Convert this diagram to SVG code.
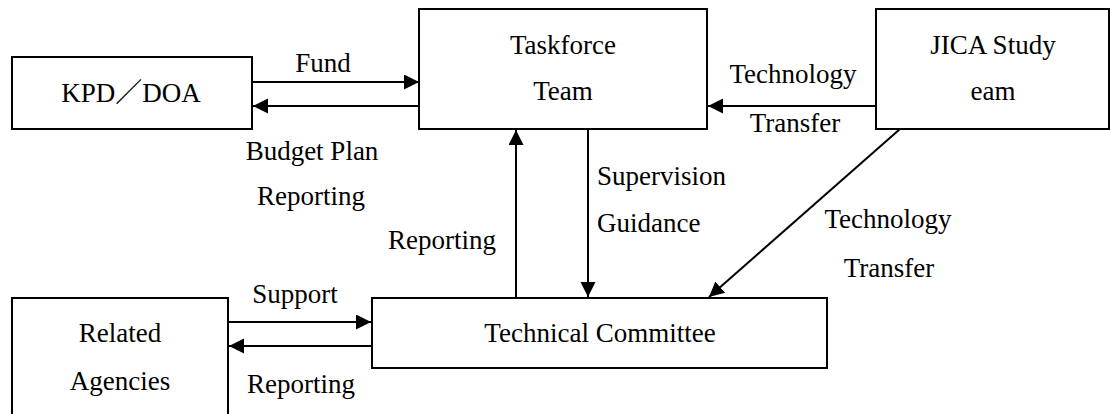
<svg xmlns="http://www.w3.org/2000/svg" width="1110" height="414" viewBox="0 0 1110 414" font-family="Liberation Serif, Times New Roman, DejaVu Serif, serif" font-size="27">
  <style>
    .box { fill: #ffffff; stroke: #000000; stroke-width: 2; }
    .conn { fill: none; stroke: #000000; stroke-width: 2; marker-end: url(#arrow); }
    .c { text-anchor: middle; }
  </style>
  <defs>
    <marker id="arrow" markerUnits="userSpaceOnUse" markerWidth="16" markerHeight="16" refX="15" refY="7.5" orient="auto">
      <path d="M0,0 L15,7.5 L0,15 Z" fill="#000000"/>
    </marker>
  </defs>
  <rect width="1110" height="414" fill="#ffffff"/>

  <g id="kpd-doa">
    <rect class="box" x="12" y="57" width="240" height="72"/>
    <text class="c" x="131" y="102">KPD<tspan font-family="Liberation Serif, Noto Sans CJK SC, serif">／</tspan>DOA</text>
  </g>
  <g id="taskforce-team">
    <rect class="box" x="419" y="9" width="288" height="120"/>
    <text class="c" x="563" y="54">Taskforce</text>
    <text class="c" x="563" y="100">Team</text>
  </g>
  <g id="jica-study-team">
    <rect class="box" x="876" y="9" width="233" height="120"/>
    <text class="c" x="993" y="54">JICA Study</text>
    <text class="c" x="993" y="100">eam</text>
  </g>
  <g id="technical-committee">
    <rect class="box" x="372" y="298" width="455" height="70"/>
    <text class="c" x="600" y="342">Technical Committee</text>
  </g>
  <g id="related-agencies">
    <rect class="box" x="12" y="298" width="216" height="130"/>
    <text class="c" x="120" y="342">Related</text>
    <text class="c" x="120" y="390">Agencies</text>
  </g>

  <g id="connectors">
    <path class="conn" d="M252,82 H419"/>
    <path class="conn" d="M419,106 H253"/>
    <path class="conn" d="M876,106 H708"/>
    <path class="conn" d="M516,298 V130"/>
    <path class="conn" d="M588,129 V297"/>
    <path class="conn" d="M900,129 L709,297"/>
    <path class="conn" d="M228,322 H371"/>
    <path class="conn" d="M372,346 H229"/>

    <text class="c" x="323" y="72">Fund</text>
    <text class="c" x="312" y="160">Budget Plan</text>
    <text class="c" x="311" y="205">Reporting</text>
    <text class="c" x="793" y="83">Technology</text>
    <text class="c" x="795" y="132">Transfer</text>
    <text x="597" y="185">Supervision</text>
    <text x="597" y="232">Guidance</text>
    <text class="c" x="442" y="249">Reporting</text>
    <text class="c" x="888" y="228">Technology</text>
    <text class="c" x="889" y="277">Transfer</text>
    <text class="c" x="295" y="303">Support</text>
    <text class="c" x="301" y="393">Reporting</text>
  </g>
</svg>
